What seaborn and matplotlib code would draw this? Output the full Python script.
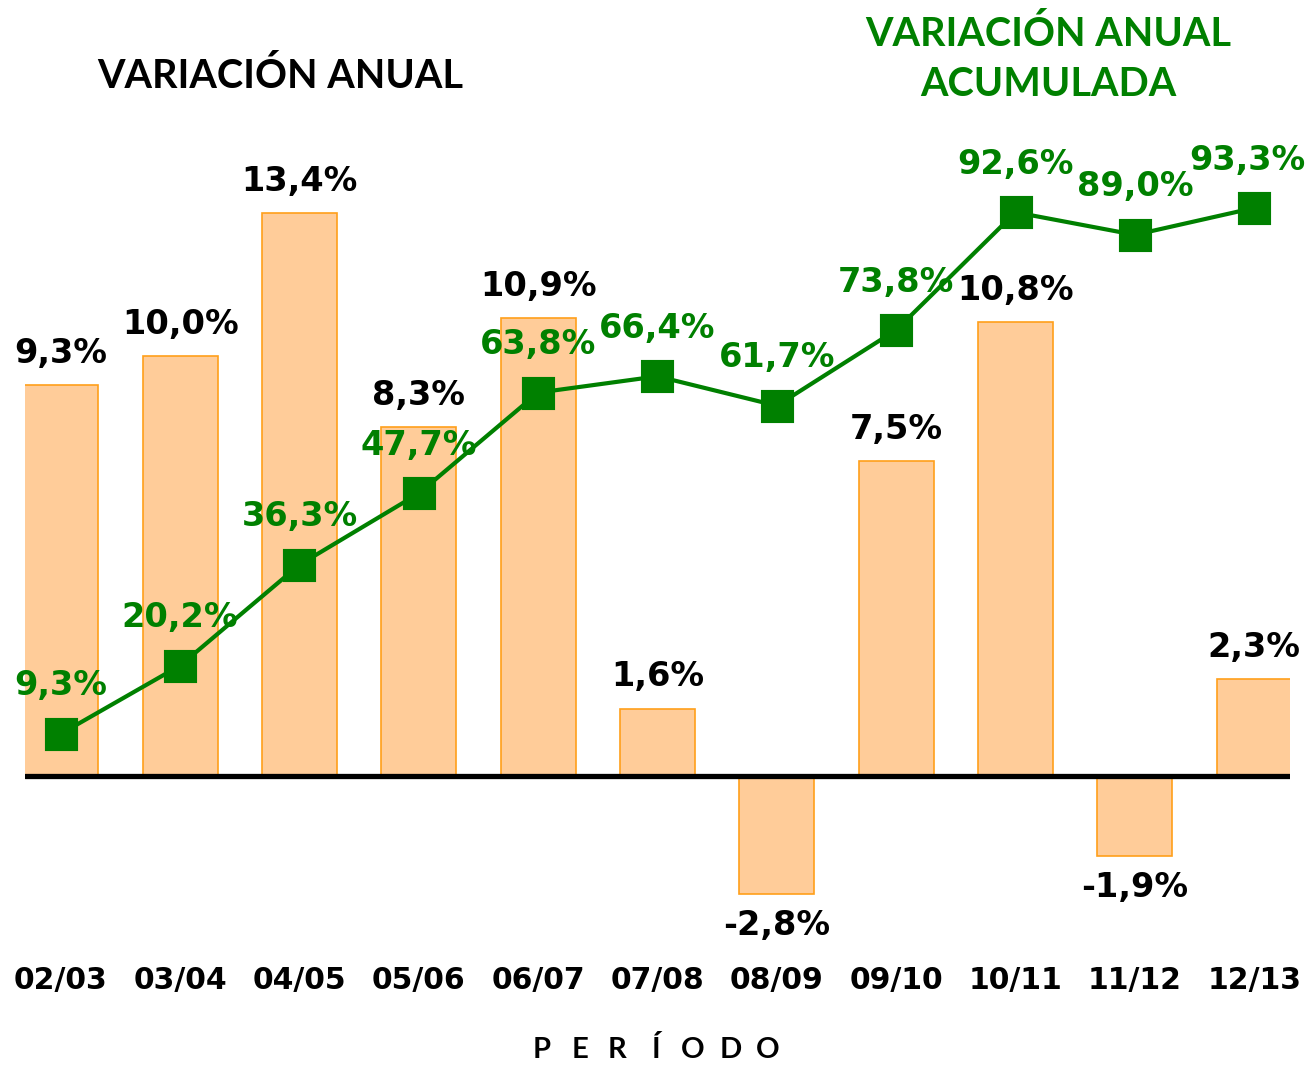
import matplotlib
matplotlib.use('Agg')
import matplotlib.pyplot as plt
import seaborn as sns

# data
periodos = ['02/03', '03/04', '04/05', '05/06', '06/07', '07/08',
            '08/09', '09/10', '10/11', '11/12', '12/13']
anual = [9.3, 10.0, 13.4, 8.3, 10.9, 1.6, -2.8, 7.5, 10.8, -1.9, 2.3]
acumulada = [9.3, 20.2, 36.3, 47.7, 63.8, 66.4, 61.7, 73.8, 92.6, 89.0, 93.3]

verde = '#008000'

sns.set_style('white')
plt.rcParams['font.family'] = ['DejaVu Sans']

fig = plt.figure(figsize=(13.09, 10.68), dpi=100)
ax = fig.add_axes([25 / 1309, 1 - 940 / 1068, 1265 / 1309, 840 / 1068])

# annual variation bars
sns.barplot(x=periodos, y=anual, ax=ax, color='#FFCC99', saturation=1,
            edgecolor='#FF9F1A', linewidth=1.2, width=0.63)
ax.axhline(0, color='black', linewidth=3.8, zorder=5)
ax.set_ylim(-3.905, 16.095)
ax.set_xlim(-0.3, 10.3)

for i, v in enumerate(anual):
    off = 23 if v >= 0 else -23
    ax.annotate(f'{v:.1f}%'.replace('.', ','), (i, v), xytext=(0, off),
                textcoords='offset points', ha='center', va='center',
                fontsize=24.2, fontweight='bold', color='black')

# cumulative line on a second axis
ax2 = ax.twinx()
sns.pointplot(x=periodos, y=acumulada, ax=ax2, color=verde, markers='s',
              markersize=21, linewidth=3)
ax2.set_ylim(-23.64, 110.54)
ax2.set_xlim(-0.3, 10.3)

for i, v in enumerate(acumulada):
    dx = -5 if i == len(acumulada) - 1 else 0  # keep last label inside
    ax2.annotate(f'{v:.1f}%'.replace('.', ','), (i, v), xytext=(dx, 34.5),
                 textcoords='offset points', ha='center', va='center',
                 fontsize=24.2, fontweight='bold', color=verde)

for a in (ax, ax2):
    for s in a.spines.values():
        s.set_visible(False)
    a.set_yticks([])
    a.set_ylabel('')
    a.set_xlabel('')

ax.tick_params(axis='x', length=0, pad=19, colors='black')
for lab in ax.get_xticklabels():
    lab.set_fontsize(21.5)
    lab.set_fontweight('bold')
    lab.set_color('black')
ax2.tick_params(axis='x', length=0, labelbottom=False)

# titles
fig.text(280 / 1309, 1 - 76 / 1068, 'VARIACIÓN ANUAL', ha='center', va='center',
         fontsize=28.5, fontweight='bold', family='Lato', color='black')
fig.text(1048 / 1309, 1 - 59 / 1068, 'VARIACIÓN ANUAL\nACUMULADA', ha='center',
         va='center', fontsize=28.5, fontweight='bold', family='Lato',
         color=verde, linespacing=1.45)

# axis title with wide letter spacing
letras = 'PERÍODO'
paso = 37.7
x0 = 655 - paso * (len(letras) - 1) / 2
for k, c in enumerate(letras):
    fig.text((x0 + k * paso) / 1309, 1 - 1050 / 1068, c, ha='center',
             va='center', fontsize=21, fontweight='bold',
             family='Lato', color='black')

fig.savefig('out.png', dpi=100)
